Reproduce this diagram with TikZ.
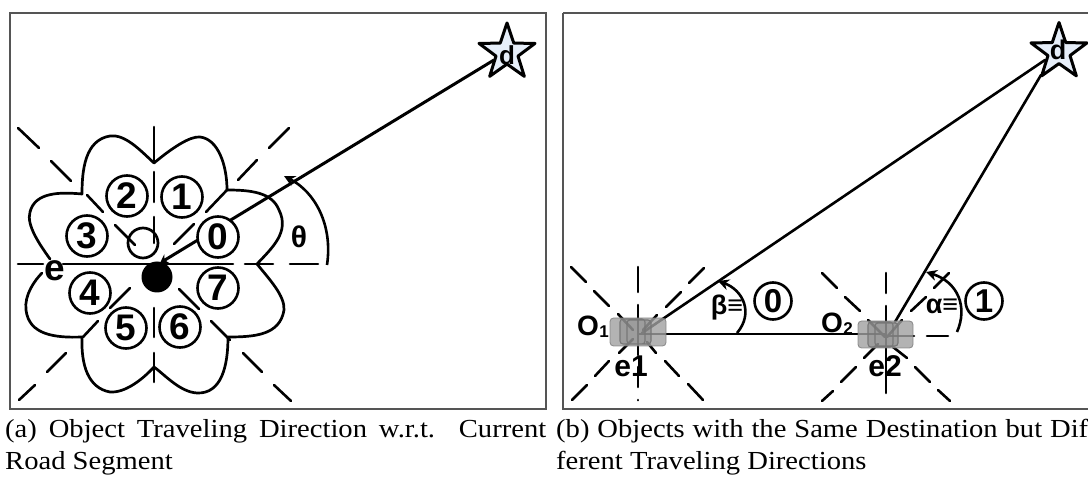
\documentclass[tikz,border=0pt]{standalone}
\usepackage{fontspec}
\setmainfont{Liberation Serif}[FakeStretch=1.1]
\setsansfont{Liberation Sans}
\usetikzlibrary{shapes.geometric,arrows.meta}
\definecolor{framegray}{HTML}{555555}
\definecolor{starfill}{HTML}{E6EEF9}
\definecolor{carbody}{HTML}{A0A0A0}
\definecolor{carline}{HTML}{777777}
\tikzset{
  x=1pt,y=-1pt,
  framebox/.style={draw=framegray,line width=1.2pt},
  ray/.style={line width=2.6pt,line cap=round},
  outline/.style={line width=2.7pt,line join=round,line cap=round},
  digit/.style={circle,draw,line width=2.6pt,fill=white,minimum size=41pt,inner sep=0pt,font=\sffamily\bfseries\fontsize{37}{37}\selectfont},
  digitb/.style={circle,draw,line width=2.6pt,fill=white,minimum size=37pt,inner sep=0pt,font=\sffamily\bfseries\fontsize{33}{33}\selectfont},
  lab/.style={inner sep=0pt,font=\sffamily\bfseries\fontsize{27}{27}\selectfont},
  edgelab/.style={inner sep=0pt,font=\sffamily\bfseries\fontsize{30}{30}\selectfont},
  sublab/.style={inner sep=0pt,font=\sffamily\bfseries\fontsize{17}{17}\selectfont},
  destination/.style={star,star points=5,star point ratio=2.55,draw,line width=3pt,line join=round,fill=starfill,minimum size=59pt,inner sep=0pt},
  capt/.style={inner sep=0pt,anchor=base west,font=\fontsize{26}{27}\selectfont},
  car/.style={draw=carline,fill=carbody,fill opacity=.8,draw opacity=.8,rounded corners=3.5pt,line width=.8pt,minimum width=56pt,minimum height=28pt,inner sep=0pt},
  carin/.style={draw=carline,fill=carline,fill opacity=.35,rounded corners=3pt,line width=1.1pt},
  tipped/.style={-{Stealth[length=11pt,width=11pt]},line width=2.6pt},
}
\newcommand{\spokes}[1]{\foreach \a/\b/\c/\d in {#1}{\draw[ray] (\a,\b) -- (\c,\d);}}
\begin{document}
\begin{tikzpicture}
\useasboundingbox (0,0) rectangle (1088,478);
\draw[framebox] (10,13) rectangle (546,409);
\draw[framebox] (563,13) -- (563,409) -- (1089,409) (563,13) -- (1089,13);
% left: dashed spokes
\spokes{18/264/43/264,63/264/233/264,245/264/273/264,290/264/318/264,
 154/127/154/163,154/172/154/202,154/217/154/243,154/308/154/337,154/353/154/382,
 18/128/39/148,51/161/71/181,87/195/103/212,115/225/135/245,
 289/128/269/148,257/160/238/180,227/190/206/212,194/224/174/244,
 130/288/110/308,98/321/83/337,66/353/47/372,35/385/19/400,
 179/289/199/309,211/321/230/340,243/353/262/372,274/385/291/401}
% flower
\draw[outline]
 (154,163) .. controls (172,148) and (190,136) .. (200,137) .. controls (218,139) and (227,165) .. (227,190)
 .. controls (250,190) and (272,192) .. (279,210) .. controls (290,232) and (272,248) .. (257,264)
 .. controls (270,280) and (285,296) .. (284,310) .. controls (280,335) and (255,337) .. (228,337)
 .. controls (228,365) and (222,394) .. (197,393) .. controls (180,392) and (165,375) .. (154,367)
 .. controls (142,380) and (125,393) .. (110,392) .. controls (88,388) and (81,365) .. (82,337)
 .. controls (55,338) and (29,335) .. (26,310) .. controls (24,295) and (35,280) .. (42,273);
\draw[outline]
 (50,259) .. controls (40,245) and (26,225) .. (30,212) .. controls (35,192) and (60,192) .. (82,194)
 .. controls (82,170) and (85,140) .. (110,136) .. controls (125,134) and (140,150) .. (154,163);
% loop
\draw[outline] (143,243) circle (15);
% dot, star, ray
\node[circle,fill=black,minimum size=31pt,inner sep=0pt] (dot) at (157,277) {};
\node[destination] (starA) at (507,52.5) {};
\coordinate (dotin) at (160,263);
\coordinate (starAin) at (494,60);
\draw[line width=3pt,-{Stealth[length=8pt,width=10pt]}] (starAin) -- (dotin);
\node[inner sep=0pt,font=\sffamily\bfseries\fontsize{26}{26}\selectfont] (dA) at (507,55) {d};
\foreach \n/\x/\y/\t in {d0/218/237/0,d1/182/197/1,d2/127/196/2,d3/87/236/3,d4/90/293/4,d5/126/328/5,d6/180/327/6,d7/218/288/7}
  \node[digit] (\n) at (\x,\y) {\t};
\coordinate (thA) at (327,265);
\coordinate (thB) at (284,176);
\draw[tipped] (thA) .. controls (333,225) and (315,192) .. (thB);
\node[lab,font=\sffamily\bfseries\fontsize{30}{30}\selectfont] (theta) at (299,237) {θ};
\node[inner sep=0pt,font=\sffamily\fontsize{37}{37}\selectfont\bfseries] (eA) at (55,271) {e};
% right: spokes car 1
\spokes{638/267/638/292,638/305/638/355,638/367/638/387,638/400/638/400.2,
 571/267/586/282,594/291/609/306,618/314/633/330,
 647/342/656/353,665/361/679/376,688/384/703/400,
 704/268/689/283,681/292/666/307,657/315/643/330,
 633/339/619/353,609/361/595/376,587/385/572/400,
% spokes car 2
 886/273/886/293,886/306/886/393,
 822/273/837/288,845/297/860/311,868/320/885/337,
 949/273/934/288,926/297/911/311,902/320/887/337,
 878/344/864/358,856/367/841/382,833/391/822/401,
 893/347/907/358,915/367/930/382,938/390/950/401,
 886/336/914/336,927/336/948/336}
\node[destination] (starB) at (1059,52) {};
\node[inner sep=0pt,font=\sffamily\bfseries\fontsize{27}{27}\selectfont] (dB) at (1058,50) {d};
\coordinate (o1) at (642,333);
\coordinate (o2) at (895,322);
\coordinate (sB1) at (1045,60);
\coordinate (sB2) at (1041,75);
\coordinate (m1) at (638,334);
\coordinate (m2) at (886,334);
\draw[ray] (o1) -- (sB1);
\draw[ray] (o2) -- (sB2);
\draw[ray] (m1) -- (m2);
\node[car] (car1) at (638,332) {};
\node[car,minimum width=55pt,minimum height=27pt] (car2) at (885.5,334.5) {};
\draw[carin] (620,319) rectangle (645,344) (627,320) rectangle (651,344);
\draw[carin] (868,322) rectangle (893,347) (875,323) rectangle (898,346);
\coordinate (bA) at (737,333);
\coordinate (bB) at (718,281);
\draw[tipped] (bA) .. controls (754,313) and (743,290) .. (bB);
\coordinate (aA) at (957,332);
\coordinate (aB) at (926,272);
\draw[tipped] (aA) .. controls (968,307) and (958,282) .. (aB);
\node[lab] (beta) at (727,308) {β≡};
\node[lab] (alpha) at (942,306) {α≡};
\node[digitb] (c0) at (773,301) {0};
\node[digitb] (c1) at (984,301) {1};
\node[inner sep=0pt,font=\sffamily\bfseries\fontsize{28}{28}\selectfont] (O1) at (588,326) {O};
\node[sublab] (s1) at (604,332) {1};
\node[inner sep=0pt,font=\sffamily\bfseries\fontsize{28}{28}\selectfont] (O2) at (832,323) {O};
\node[sublab] (s2) at (848,329) {2};
\node[edgelab] (e1) at (631,366) {e1};
\node[edgelab] (e2) at (885,366) {e2};
% captions
\node[capt] (ca1) at (5,438) {\makebox[541pt][s]{(a) Object Traveling Direction w.r.t.\ \ Current}};
\node[capt] (ca2) at (5,469) {Road Segment};
\node[capt] (cb1) at (556,438) {\makebox[532pt][s]{(b) Objects with the Same Destination but Dif}};
\node[capt] (cb2) at (556,469) {ferent Traveling Directions};
\end{tikzpicture}
\end{document}
